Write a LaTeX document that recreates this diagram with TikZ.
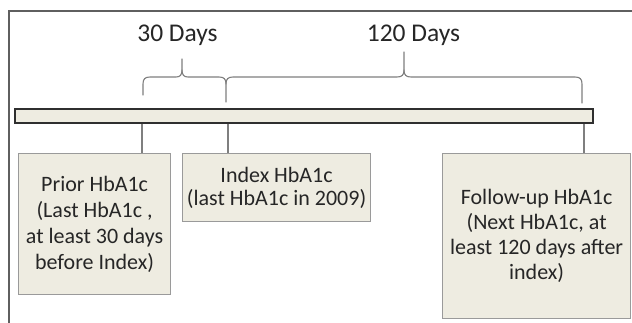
\documentclass[tikz,border=0pt]{standalone}
\usepackage{fontspec}
\setmainfont{Carlito}
\begin{document}
\begin{tikzpicture}[x=1pt,y=-1pt,
  hbox/.style={draw=boxline, line width=1.2pt, fill=beige, inner sep=0pt, anchor=north west, align=center, text=black!85},
  conn/.style={draw=linegray, line width=1.1pt},
  bracepath/.style={draw=linegray, line width=1.1pt, line cap=round},
  toplabel/.style={font=\fontsize{25.5}{30}\selectfont, text=black!85, inner sep=0pt, anchor=base}]
\definecolor{beige}{HTML}{EEECE1}
\definecolor{boxline}{HTML}{9A9A9A}
\definecolor{linegray}{HTML}{7F7F7F}
\definecolor{framegray}{HTML}{5F5F5F}
\definecolor{bardark}{HTML}{2F2F2F}
\useasboundingbox (0,0) rectangle (632,322);
\fill[white] (0,0) rectangle (632,322);
% outer frame
\draw[framegray, line width=1.8pt] (9,330) -- (9,11) -- (640,11);
% timeline bar
\node[draw=bardark, line width=1.8pt, fill=beige, inner sep=0pt, minimum width=578pt, minimum height=14pt, anchor=north west] (bar) at (14,108) {};
% labels
\node[toplabel] (l30) at (177.5,41) {30 Days};
\node[toplabel] (l120) at (413.5,41) {120 Days};
% braces
\draw[bracepath] (143,95) -- (143,84) .. controls (143,79) and (145,77) .. (150,77) -- (176,77) .. controls (180,77) and (182,75) .. (182,70) -- (182,59);
\draw[bracepath] (182,70) .. controls (182,75) and (184,77) .. (188,77) -- (219,77) .. controls (224,77) and (226,79) .. (226,84) -- (226,102);
\draw[bracepath] (226,84) .. controls (226,79) and (228,77) .. (233,77) -- (397,77) .. controls (402,77) and (404,75) .. (404,70) -- (404,52);
\draw[bracepath] (404,70) .. controls (404,75) and (406,77) .. (411,77) -- (575,77) .. controls (580,77) and (582,79) .. (582,84) -- (582,103);
% boxes
\node[hbox, minimum width=152pt, minimum height=141pt, font=\fontsize{22}{26}\selectfont] (prior) at (18,153) {Prior HbA1c\\(Last HbA1c ,\\at least 30 days\\before Index)};
\node[hbox, minimum width=188pt, minimum height=68pt, font=\fontsize{22}{23}\selectfont] (index) at (182,153) {Index HbA1c\\(last HbA1c in 2009)};
\node[hbox, minimum width=188pt, minimum height=165pt, font=\fontsize{22}{25}\selectfont] (follow) at (442,153) {Follow-up HbA1c\\(Next HbA1c, at\\least 120 days after\\index)};
% connectors
\coordinate (c1) at (142,0);
\coordinate (c2) at (228,0);
\coordinate (c3) at (584,0);
\draw[conn] (bar.south -| c1) -- (prior.north -| c1);
\draw[conn] (bar.south -| c2) -- (index.north -| c2);
\draw[conn] (bar.south -| c3) -- (follow.north -| c3);
\end{tikzpicture}
\end{document}
